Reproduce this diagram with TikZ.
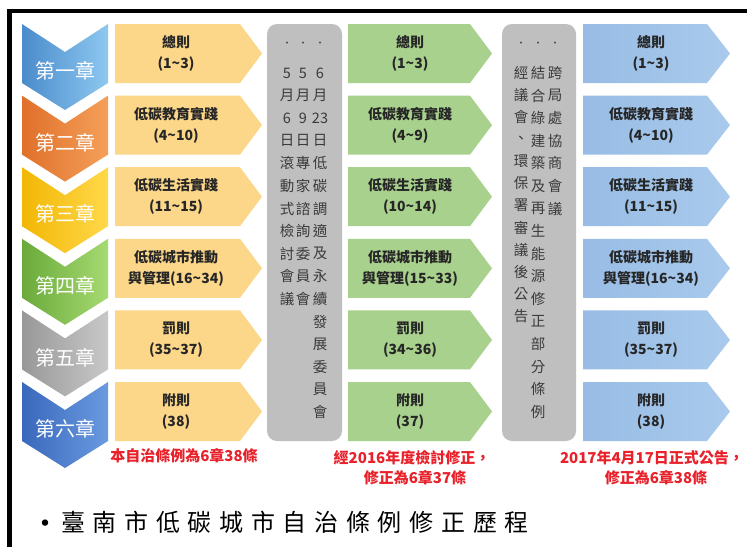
\documentclass[tikz,border=0pt]{standalone}
\usepackage{fontspec}
\setmainfont{Noto Sans CJK TC}
\newfontfamily\titlefont[LetterSpace=32]{Noto Sans CJK TC}
\definecolor{frameblack}{HTML}{000000}
\definecolor{yfill}{HTML}{FCD78A}
\definecolor{gfill}{HTML}{A9D18E}
\definecolor{bfillL}{HTML}{98BCE5}
\definecolor{bfillR}{HTML}{A9CAEC}
\definecolor{colgray}{HTML}{BFBFBF}
\definecolor{vtext}{HTML}{3A3A3A}
\definecolor{btext}{HTML}{262626}
\definecolor{redtext}{HTML}{E8212B}
\definecolor{cbA}{HTML}{4A8BCB}\definecolor{cbB}{HTML}{8EC8F0}
\definecolor{coA}{HTML}{E0702A}\definecolor{coB}{HTML}{F4A05A}
\definecolor{cyA}{HTML}{F2B705}\definecolor{cyB}{HTML}{FFD84A}
\definecolor{cgA}{HTML}{6AAA3A}\definecolor{cgB}{HTML}{A6DA72}
\definecolor{caA}{HTML}{989898}\definecolor{caB}{HTML}{C8C8C8}
\definecolor{cdA}{HTML}{3A68BC}\definecolor{cdB}{HTML}{6A9AE0}
\tikzset{
  chaplabel/.style={text=white,font=\fontsize{20}{22}\selectfont,inner sep=0pt},
  boxtext/.style={text=btext,align=center,font=\bfseries\fontsize{14}{21}\selectfont,inner sep=0pt},
  vchar/.style={text=vtext,font=\fontsize{14.5}{16}\selectfont,inner sep=0pt},
  vdot/.style={text=vtext,font=\fontsize{9}{10}\selectfont,inner sep=0pt},
  rednote/.style={text=redtext,font=\bfseries\fontsize{15}{18}\selectfont,inner sep=0pt},
  colbox/.style={fill=colgray,rounded corners=10pt}
}
\begin{document}
\begin{tikzpicture}[x=1pt,y=-1pt]
\useasboundingbox (0,0) rectangle (747,547);
\fill[white] (0,0) rectangle (747,547);
% frame
\draw[frameblack,line width=4.2pt] (9.5,547) -- (9.5,11) -- (747,11);
% gray columns
\fill[colbox] (267,24) rectangle (342,441);
\fill[colbox] (502,24) rectangle (576,441);
% rows
\foreach \i/\ca/\cb/\lab in {0/cbA/cbB/第一章,1/coA/coB/第二章,2/cyA/cyB/第三章,3/cgA/cgB/第四章,4/caA/caB/第五章,5/cdA/cdB/第六章}{
  \pgfmathsetmacro{\y}{24+71.6*\i}
  \shade[left color=\ca,right color=\cb] (22,\y) -- (65,\y+28) -- (108,\y) -- (108,\y+59) -- (65,\y+86) -- (22,\y+59) -- cycle;
  \node[chaplabel] (chap\i) at (65,\y+47) {\lab};
  \fill[yfill] (115,\y) -- (240,\y) -- (262,\y+29.5) -- (240,\y+59) -- (115,\y+59) -- cycle;
  \fill[gfill] (348,\y) -- (470,\y) -- (492,\y+29.5) -- (470,\y+59) -- (348,\y+59) -- cycle;
  \shade[left color=bfillL,right color=bfillR] (583,\y) -- (707,\y) -- (730,\y+29.5) -- (707,\y+59) -- (583,\y+59) -- cycle;
}
% box texts
\foreach \i/\ta/\tb/\tc in {0/{總則\\(1\textasciitilde3)}/{總則\\(1\textasciitilde3)}/{總則\\(1\textasciitilde3)},
  1/{低碳教育實踐\\(4\textasciitilde10)}/{低碳教育實踐\\(4\textasciitilde9)}/{低碳教育實踐\\(4\textasciitilde10)},
  2/{低碳生活實踐\\(11\textasciitilde15)}/{低碳生活實踐\\(10\textasciitilde14)}/{低碳生活實踐\\(11\textasciitilde15)},
  3/{低碳城市推動\\與管理(16\textasciitilde34)}/{低碳城市推動\\與管理(15\textasciitilde33)}/{低碳城市推動\\與管理(16\textasciitilde34)},
  4/{罰則\\(35\textasciitilde37)}/{罰則\\(34\textasciitilde36)}/{罰則\\(35\textasciitilde37)},
  5/{附則\\(38)}/{附則\\(37)}/{附則\\(38)}}{
  \pgfmathsetmacro{\y}{24+71.6*\i+29.5}
  \node[boxtext] (ya\i) at (176,\y) {\ta};
  \node[boxtext] (gr\i) at (410,\y) {\tb};
  \node[boxtext] (bl\i) at (651,\y) {\tc};
}
% dots
\foreach \x/\n in {287/1,303/2,320/3}{\node[vdot] (da\n) at (\x,44) {•};}
\foreach \x/\n in {521/1,538/2,555/3}{\node[vdot] (db\n) at (\x,44) {•};}
% vertical texts, column 1
\foreach \ch [count=\k from 0] in {5,月,6,日,滾,動,式,檢,討,會,議}{\node[vchar] (va\k) at (287,73+22.6*\k) {\ch};}
\foreach \ch [count=\k from 0] in {5,月,9,日,專,家,諮,詢,委,員,會}{\node[vchar] (vb\k) at (303,73+22.6*\k) {\ch};}
\foreach \ch [count=\k from 0] in {6,月,23,日,低,碳,調,適,及,永,續,發,展,委,員,會}{\node[vchar] (vc\k) at (320,73+22.6*\k) {\ch};}
% vertical texts, column 2
\foreach \ch [count=\k from 0] in {經,議,會,、,環,保,署,審,議,後,公,告}{\node[vchar] (vd\k) at (521,73+22.1*\k) {\ch};}
\foreach \ch [count=\k from 0] in {結,合,綠,建,築,及,再,生,能,源,修,正,部,分,條,例}{\node[vchar] (ve\k) at (538,73+22.6*\k) {\ch};}
\foreach \ch [count=\k from 0] in {跨,局,處,協,商,會,議}{\node[vchar] (vf\k) at (555,73+22.6*\k) {\ch};}
% red notes
\node[rednote] (n1) at (184,456) {本自治條例為6章38條};
\node[rednote] (n2) at (412,458) {經2016年度檢討修正，};
\node[rednote] (n3) at (415,478) {修正為6章37條};
\node[rednote] (n4) at (652,458) {2017年4月17日正式公告，};
\node[rednote] (n5) at (656,478) {修正為6章38條};
% title
\node[font=\fontsize{30}{30}\selectfont,inner sep=0pt] (bul) at (45,527) {•};
\node[anchor=west,font=\titlefont\fontsize{24}{26}\selectfont,inner sep=0pt] (title) at (61,522) {臺南市低碳城市自治條例修正歷程};
\end{tikzpicture}
\end{document}
